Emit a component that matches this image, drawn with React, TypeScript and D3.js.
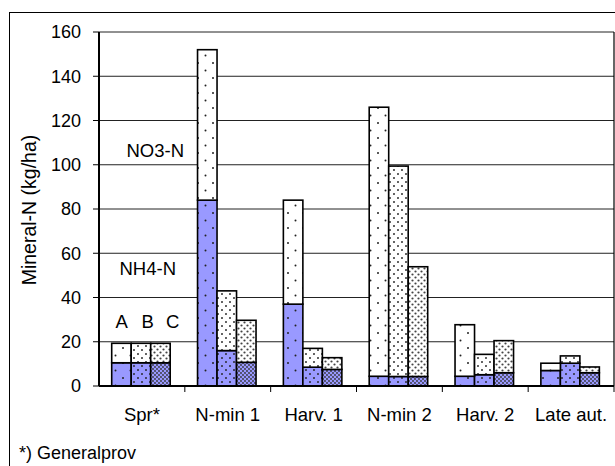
import React from "react";
import * as d3 from "d3";

const categories = ["Spr*", "N-min 1", "Harv. 1", "N-min 2", "Harv. 2", "Late aut."];
const treatments = ["A", "B", "C"];
const nh4A = [10.5, 84, 37, 4.4, 4.4, 7];
const nh4B = [10.5, 16, 8.5, 4.3, 5.1, 10.3];
const nh4C = [10.5, 10.7, 7.5, 4.3, 6.0, 6.0];
const no3A = [8.8, 68, 47, 121.6, 23.3, 3.3];
const no3B = [8.8, 27, 8.5, 95.1, 9.2, 3.3];
const no3C = [8.8, 19, 5.3, 49.6, 14.5, 2.6];
const yTicks = [0, 20, 40, 60, 80, 100, 120, 140, 160];

const W = 615, H = 466;
const L = 99, R = 614, T = 32, B = 386;
const FONT = "'Liberation Sans', Arial, sans-serif";

export default function App() {
  const y = d3.scaleLinear().domain([0, 160]).range([B, T]);
  const x = d3.scaleBand().domain(categories).range([L, R]).padding(0);
  const bw = x.bandwidth();
  const inner = d3.scaleBand().domain(treatments).range([bw * 0.148, bw * 0.148 + 58.5]).padding(0);

  const nh4 = [nh4A, nh4B, nh4C];
  const no3 = [no3A, no3B, no3C];
  const rows = categories.flatMap((c, i) =>
    treatments.map((t, k) => ({ cat: c, trt: t, k, nh4: nh4[k][i], no3: no3[k][i] }))
  );
  const stack = d3.stack<any>().keys(["nh4", "no3"]);
  const series = stack(rows);

  return (
    <svg width={W} height={H} style={{ position: "absolute", left: 0, top: 0, background: "#fff" }} fontFamily={FONT}>
      <defs>
        {["w", "b"].map((bg) => (
          <React.Fragment key={bg}>
            <pattern id={`pA-${bg}`} width={15} height={15} patternUnits="userSpaceOnUse">
              <rect width={15} height={15} fill={bg === "w" ? "#fff" : "#9999ff"} />
              <circle cx={3} cy={3} r={1} fill="#222" />
              <circle cx={10.5} cy={10.5} r={1} fill="#222" />
            </pattern>
            <pattern id={`pB-${bg}`} width={8} height={8} patternUnits="userSpaceOnUse">
              <rect width={8} height={8} fill={bg === "w" ? "#fff" : "#9999ff"} />
              <circle cx={2} cy={2} r={0.95} fill="#222" />
              <circle cx={6} cy={6} r={0.95} fill="#222" />
            </pattern>
          </React.Fragment>
        ))}
        <pattern id="pC-w" width={6} height={6} patternUnits="userSpaceOnUse">
          <rect width={6} height={6} fill="#fff" />
          <circle cx={1.5} cy={1.5} r={1.1} fill="#444" />
          <circle cx={4.5} cy={4.5} r={1.1} fill="#444" />
        </pattern>
        <pattern id="pC-b" width={4} height={4} patternUnits="userSpaceOnUse">
          <rect width={4} height={4} fill="#9999ff" />
          <circle cx={1} cy={1} r={0.9} fill="#333" />
          <circle cx={3} cy={3} r={0.9} fill="#333" />
        </pattern>
      </defs>

      {/* outer frame */}
      <rect x={9.5} y={12.5} width={620} height={470} fill="none" stroke="#000" strokeWidth={1} />

      {/* gridlines */}
      {yTicks.slice(1).map((t) => (
        <line key={t} x1={L} x2={R} y1={y(t)} y2={y(t)} stroke="#222" strokeWidth={1} />
      ))}
      <line x1={R} x2={R} y1={T} y2={B} stroke="#000" strokeWidth={1.2} />

      {/* bars */}
      {series.map((s) =>
        s.map((d: any, i: number) => {
          const r = d.data;
          const key = s.key === "nh4" ? "b" : "w";
          return (
            <rect
              key={s.key + i}
              x={(x(r.cat) as number) + (inner(r.trt) as number)}
              y={y(d[1])}
              width={inner.bandwidth()}
              height={y(d[0]) - y(d[1])}
              fill={`url(#p${r.trt}-${key})`}
              stroke="#000"
              strokeWidth={1.6}
            />
          );
        })
      )}

      {/* axes */}
      <line x1={L} x2={L} y1={T} y2={B} stroke="#000" strokeWidth={2} />
      <line x1={L} x2={R} y1={B} y2={B} stroke="#000" strokeWidth={2} />
      {yTicks.map((t) => (
        <g key={t}>
          <line x1={L - 6} x2={L} y1={y(t)} y2={y(t)} stroke="#000" strokeWidth={1} />
          <text x={81} y={y(t)} dy="0.35em" textAnchor="end" fontSize={18} fill="#000">
            {t}
          </text>
        </g>
      ))}
      {categories.map((c, i) => (
        <g key={c}>
          {i > 0 && <line x1={x(c)} x2={x(c)} y1={B} y2={B + 6} stroke="#000" strokeWidth={1} />}
          <text x={(x(c) as number) + bw / 2} y={421} textAnchor="middle" fontSize={18.5} fill="#000">
            {c}
          </text>
        </g>
      ))}
      <line x1={R} x2={R} y1={B} y2={B + 6} stroke="#000" strokeWidth={1} />

      <text transform="translate(36,210) rotate(-90)" textAnchor="middle" fontSize={19.5} fill="#000">
        Mineral-N (kg/ha)
      </text>

      <text x={126.5} y={157} fontSize={18.5} fill="#000">NO3-N</text>
      <text x={119.5} y={275} fontSize={18.5} fill="#000">NH4-N</text>
      <text x={115.5} y={328} fontSize={18.5} fill="#000">A</text>
      <text x={141.5} y={328} fontSize={18.5} fill="#000">B</text>
      <text x={166} y={328} fontSize={18.5} fill="#000">C</text>

      <text x={19} y={459} fontSize={18} fill="#000">*) Generalprov</text>
    </svg>
  );
}
